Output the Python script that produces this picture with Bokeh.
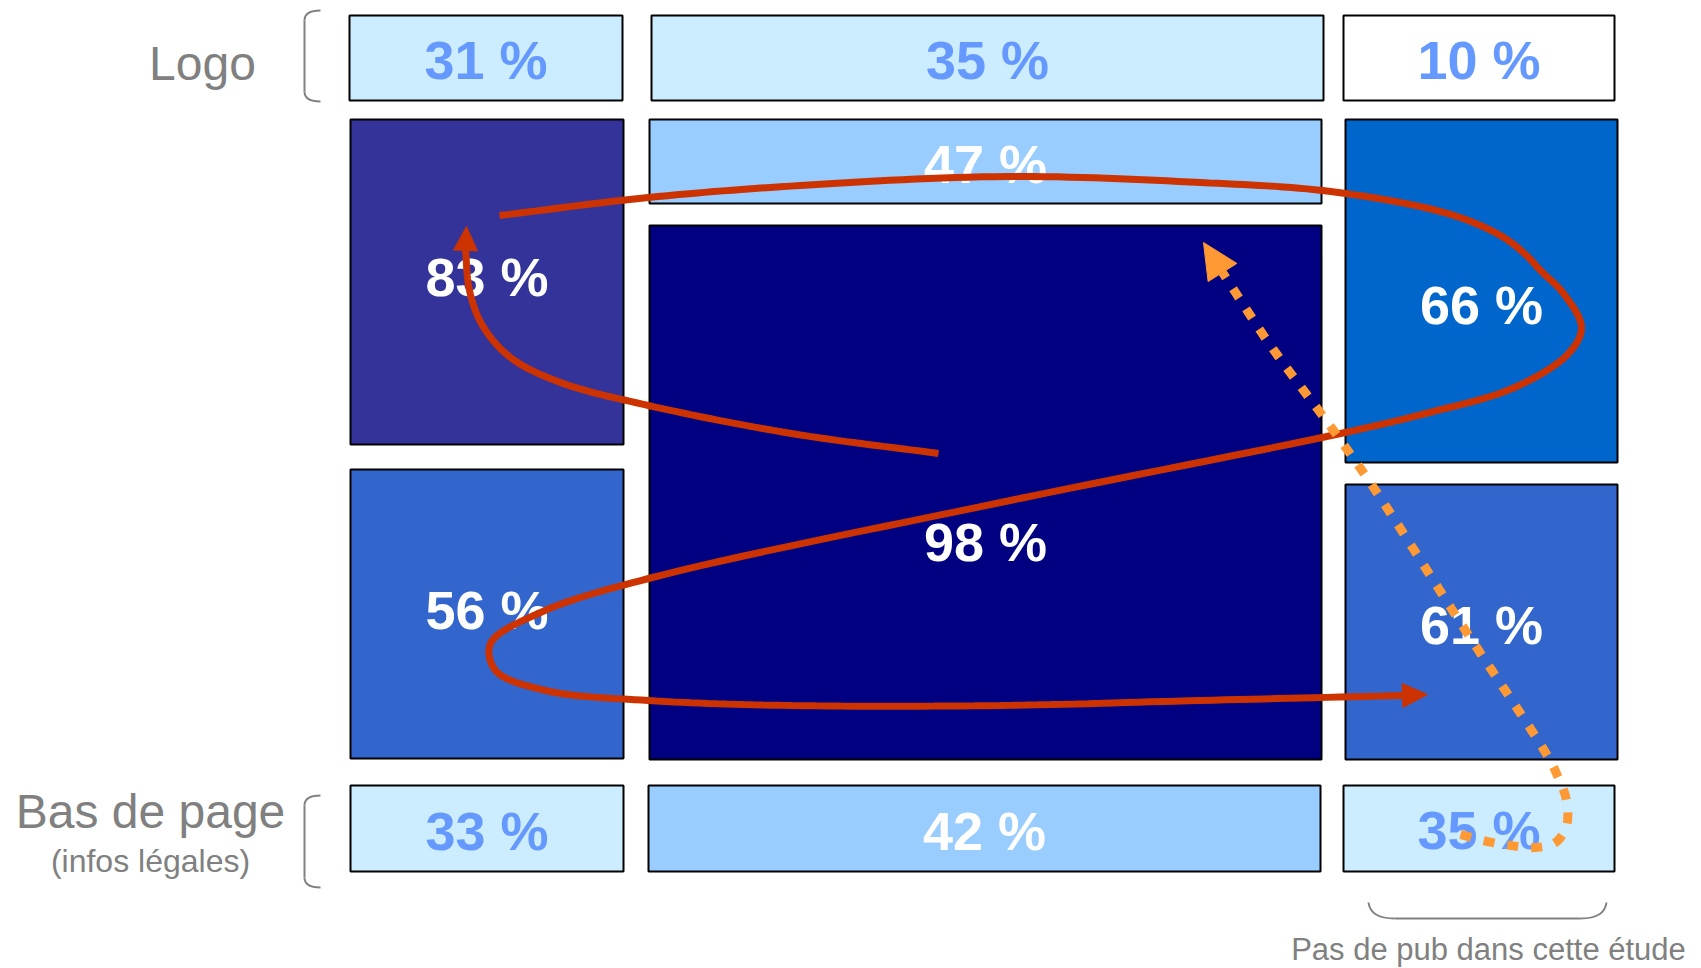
import numpy as np
from bokeh.plotting import figure
from bokeh.models import Range1d, ColumnDataSource
from bokeh.core.properties import value
from bokeh.embed import file_html
from bokeh.resources import INLINE

# ---- data ----
zones = ["Logo G", "Logo C", "Logo D", "Haut G", "Haut C", "Centre", "Haut D",
         "Bas G", "Bas D", "Pied G", "Pied C", "Pied D"]
percent = [31, 35, 10, 83, 47, 98, 66, 56, 61, 33, 42, 35]
row_labels = ["Logo", "Bas de page", "(infos légales)"]
note_label = "Pas de pub dans cette étude"

# ---- layout (pixel geometry of the page zones) ----
box_left = [349, 651, 1343, 350, 649, 649, 1345, 350, 1345, 350, 648, 1343]
box_right = [622, 1323, 1614, 623, 1321, 1321, 1617, 623, 1617, 623, 1320, 1614]
box_top = [15, 15, 15, 119, 119, 225, 119, 469, 484, 785, 785, 785]
box_bottom = [100, 100, 100, 444, 203, 759, 462, 758, 759, 871, 871, 871]
label_mid = [59, 59, 59, 276, 163, 541, 304, 609, 624, 830, 830, 829]
fills = ["#CCECFF", "#CCECFF", "#FFFFFF", "#333399", "#99CCFF", "#000080", "#0066CC",
         "#3366CC", "#3366CC", "#CCECFF", "#99CCFF", "#CCECFF"]
txt_cols = ["#6699FF", "#6699FF", "#6699FF", "#FFFFFF", "#FFFFFF", "#FFFFFF", "#FFFFFF",
            "#FFFFFF", "#FFFFFF", "#6699FF", "#FFFFFF", "#6699FF"]

# eye path (reading order) waypoints
pathA_x = [938, 791, 648, 560, 510, 482, 469, 465]
pathA_y = [453, 433, 405, 382, 357, 325, 290, 250]
pathA_tip = (466, 226)
pathB_x = [499, 648, 800, 1007, 1200, 1330, 1447, 1500, 1525, 1540, 1563, 1581, 1568, 1514,
           1425, 1340, 1000, 648, 540, 490, 495, 545, 648, 791, 1000, 1200, 1402]
pathB_y = [215, 197, 185, 176, 182, 191, 213, 235, 254, 270, 293, 327, 353, 387,
           413, 433, 502, 578, 612, 643, 670, 690, 700, 705, 705, 700, 695]
pathB_tip = (1427, 694)
pathC_x = [1460, 1487, 1510, 1535, 1555, 1566, 1566, 1556, 1545, 1465, 1375, 1333, 1270, 1222]
pathC_y = [834, 841, 845, 847, 842, 825, 800, 773, 752, 630, 490, 430, 345, 272]
pathC_tip = (1203, 242)


def smooth(xs, ys, n=16, alpha=0.5):
    pts = np.column_stack([xs, ys]).astype(float)
    P = np.vstack([2 * pts[0] - pts[1], pts, 2 * pts[-1] - pts[-2]])
    out = []
    for i in range(1, len(P) - 2):
        p0, p1, p2, p3 = P[i - 1], P[i], P[i + 1], P[i + 2]
        t0 = 0.0
        t1 = t0 + np.hypot(*(p1 - p0)) ** alpha
        t2 = t1 + np.hypot(*(p2 - p1)) ** alpha
        t3 = t2 + np.hypot(*(p3 - p2)) ** alpha
        for t in np.linspace(t1, t2, n, endpoint=False):
            a1 = (t1 - t) / (t1 - t0) * p0 + (t - t0) / (t1 - t0) * p1
            a2 = (t2 - t) / (t2 - t1) * p1 + (t - t1) / (t2 - t1) * p2
            a3 = (t3 - t) / (t3 - t2) * p2 + (t - t2) / (t3 - t2) * p3
            b1 = (t2 - t) / (t2 - t0) * a1 + (t - t0) / (t2 - t0) * a2
            b2 = (t3 - t) / (t3 - t1) * a2 + (t - t1) / (t3 - t1) * a3
            out.append((t2 - t) / (t2 - t1) * b1 + (t - t1) / (t2 - t1) * b2)
    out.append(P[-2])
    out = np.array(out)
    return out[:, 0], out[:, 1]


def head(base, tip, half):
    bx, by = base
    tx, ty = tip
    d = np.array([tx - bx, ty - by], float)
    d /= np.hypot(*d)
    nrm = np.array([-d[1], d[0]])
    return ([bx + nrm[0] * half, tx, bx - nrm[0] * half],
            [by + nrm[1] * half, ty, by - nrm[1] * half])


p = figure(width=1701, height=968, x_range=Range1d(0, 1701), y_range=Range1d(968, 0),
           output_backend="svg", toolbar_location=None, min_border=0,
           x_axis_type=None, y_axis_type=None)
p.grid.visible = False
p.outline_line_color = None
p.background_fill_color = "white"

src = ColumnDataSource(dict(zone=zones, pct=[f"{v} %" for v in percent],
                            left=box_left, right=box_right, top=box_top, bottom=box_bottom,
                            fill=fills, tcol=txt_cols, ty=label_mid,
                            tx=[(a + b) / 2 for a, b in zip(box_left, box_right)]))
p.quad(left="left", right="right", top="top", bottom="bottom", fill_color="fill",
       line_color="black", line_width=2, source=src)
p.text(x="tx", y="ty", text="pct", text_color="tcol", text_font=value("Liberation Sans"),
       text_font_style="bold", text_font_size="54px", text_align="center",
       text_baseline="middle", source=src)

gray = "#808080"
p.text(x=[202, 150], y=[63, 811], text=row_labels[:2], text_color=gray,
       text_font=value("Liberation Sans"), text_font_size="48px", text_align="center",
       text_baseline="middle")
p.text(x=[150], y=[860], text=[row_labels[2]], text_color=gray,
       text_font=value("Liberation Sans"), text_font_size="32px", text_align="center",
       text_baseline="middle")
p.text(x=[1488], y=[949], text=[note_label], text_color=gray,
       text_font=value("Liberation Sans"), text_font_size="31px", text_align="center",
       text_baseline="middle")

# brackets
for top, bot in [(10, 101), (795, 887)]:
    p.quadratic(x0=[320, 304], y0=[top, bot - 10], x1=[304, 320], y1=[top + 10, bot],
                cx=[304, 304], cy=[top, bot], line_color=gray, line_width=2)
    p.line([304, 304], [top + 10, bot - 10], line_color=gray, line_width=2)
p.quadratic(x0=[1368, 1580], y0=[902, 918], x1=[1394, 1606], y1=[918, 902],
            cx=[1370, 1604], cy=[918, 918], line_color=gray, line_width=2)
p.line([1394, 1580], [918, 918], line_color=gray, line_width=2)

# red reading path
red = "#CC3300"
for xs, ys, tip in [(pathA_x, pathA_y, pathA_tip), (pathB_x, pathB_y, pathB_tip)]:
    sx, sy = smooth(xs, ys)
    p.line(sx, sy, line_color=red, line_width=7)
    hx, hy = head((xs[-1], ys[-1]), tip, 12)
    p.patch(hx, hy, fill_color=red, line_color=red, line_width=1)

# orange dotted path
orange = "#FF9933"
sx, sy = smooth(pathC_x, pathC_y)
p.line(sx, sy, line_color=orange, line_width=9, line_dash="11 13", line_cap="butt")
hx, hy = head((pathC_x[-1], pathC_y[-1]), pathC_tip, 17)
p.patch(hx, hy, fill_color=orange, line_color=orange)

open("out.html", "w").write(file_html(p, INLINE))
